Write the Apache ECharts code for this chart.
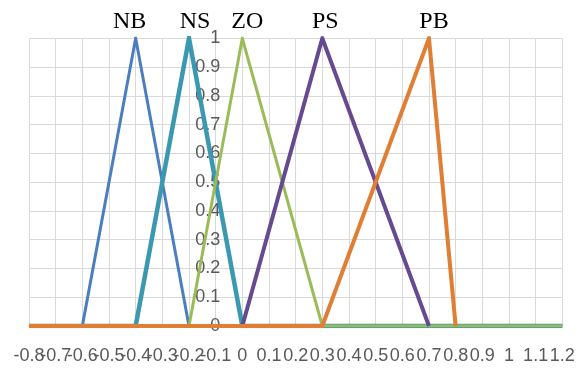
<!DOCTYPE html>
<html>
<head>
<meta charset="utf-8">
<script src="https://cdn.jsdelivr.net/npm/echarts@6/dist/echarts.min.js"></script>
<style>html,body{margin:0;padding:0;background:#fff}#c{width:585px;height:370px}</style>
</head>
<body>
<div id="c"></div>
<script>
var xs = [-0.8,-0.7,-0.6,-0.5,-0.4,-0.3,-0.2,-0.1,0,0.1,0.2,0.3,0.4,0.5,0.6,0.7,0.8,0.9,1,1.1,1.2];
var names = ['NB','NS','ZO','PS','PB'];
var n = null;
var NB = [0,0,0,n,1,n,0,0,0,0,0,0,0,0,0,0,0,0,0,0,0];
var NS = [0,0,0,0,0,n,1,n,0,0,0,0,0,0,0,0,0,0,0,0,0];
var ZO = [0,0,0,0,0,0,0,n,1,n,n,0,0,0,0,0,0,0,0,0,0];
var PS = [0,0,0,0,0,0,0,0,0,n,n,1,n,n,n,0,n,n,n,n,n];
var PB = [0,0,0,0,0,0,0,0,0,0,0,0,n,n,n,1,0,n,n,n,n];
var values = [NB, NS, ZO, PS, PB];
var colors = ['#4A7EBF','#3A99B0','#9BBB59','#66498F','#E07E34'];
var widths = [3, 4.5, 3, 4, 4];
var labelOffsets = [[-6,-17],[6,-17],[5,-17],[3,-17],[5,-17]];

var series = names.map(function(nm, i){
  var arr = values[i];
  var data = xs.map(function(x, j){ return [x, arr[j]]; });
  var peak = 0;
  arr.forEach(function(v, j){ if (v !== null && v > arr[peak]) peak = j; });
  return {
    name: nm, type: 'line', data: data, connectNulls: true,
    symbol: 'none', z: 2 + i,
    lineStyle: {color: colors[i], width: widths[i], join: 'miter', cap: 'butt'},
    itemStyle: {color: colors[i]},
    markPoint: {
      symbol: 'circle', symbolSize: 0, silent: true,
      data: [{coord: [xs[peak], arr[peak]], value: nm}],
      label: {show: true, position: 'inside', offset: labelOffsets[i], formatter: nm,
        fontFamily: 'Liberation Serif', fontSize: 24, color: '#000'}
    }
  };
});

var labelStyle = {color: '#595959', fontFamily: 'Liberation Sans', fontSize: 18, margin: 21, hideOverlap: false};

var chart = echarts.init(document.getElementById('c'), null, {renderer: 'canvas'});
chart.setOption({
  animation: false,
  grid: {left: 29, right: 22.7, top: 38.3, bottom: 44, containLabel: false, outerBoundsMode: 'none'},
  xAxis: [{
    type: 'value', min: xs[0], max: xs[xs.length - 1], interval: 0.1, position: 'bottom',
    axisLine: {show: true, onZero: false, lineStyle: {color: '#d9d9d9'}},
    axisTick: {show: false},
    axisLabel: Object.assign({showMinLabel: false, showMaxLabel: true}, labelStyle),
    splitLine: {show: true, lineStyle: {color: '#d9d9d9', width: 1}}
  }, {
    type: 'value', min: xs[0], max: xs[xs.length - 1], interval: 0.1, position: 'bottom', offset: 0,
    axisLine: {show: false, onZero: false},
    axisTick: {show: false},
    axisLabel: Object.assign({showMinLabel: true, showMaxLabel: false,
      formatter: function(v){ return Math.abs(v - xs[0]) < 1e-9 ? String(xs[0]) : ''; }}, labelStyle),
    splitLine: {show: false}
  }],
  yAxis: {
    type: 'value', min: 0, max: 1, interval: 0.1,
    axisLine: {show: true, onZero: false, lineStyle: {color: '#d9d9d9'}},
    axisTick: {show: false},
    axisLabel: {color: '#595959', fontFamily: 'Liberation Sans', fontSize: 18, margin: 22},
    splitLine: {show: true, lineStyle: {color: '#d9d9d9', width: 1}}
  },
  series: series
});
// move the y axis onto x = 0
var pxZero = chart.convertToPixel({xAxisIndex: 0}, 0);
var pxMin = chart.convertToPixel({xAxisIndex: 0}, xs[0]);
chart.setOption({yAxis: {offset: -(pxZero - pxMin)}});
</script>
</body>
</html>
